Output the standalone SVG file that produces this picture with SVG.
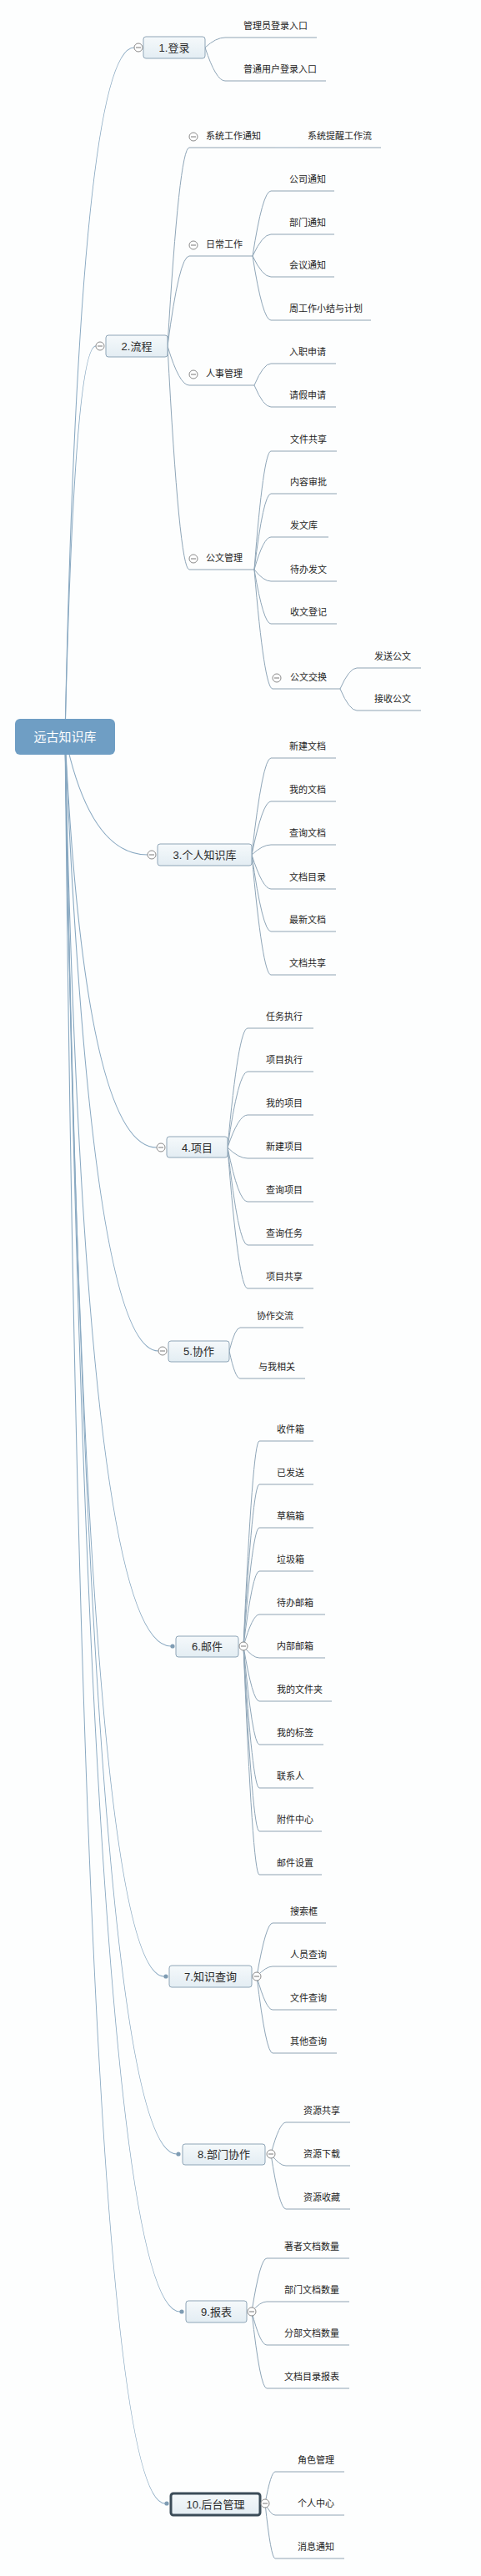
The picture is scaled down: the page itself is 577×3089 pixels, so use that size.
<svg xmlns="http://www.w3.org/2000/svg" xmlns:xlink="http://www.w3.org/1999/xlink" width="577" height="3089" viewBox="0 0 577 3089">
<style>
.m{fill:none;stroke:#88a8c1;stroke-width:1.1}
.c{fill:none;stroke:#8fa6b8;stroke-width:1}
.u{fill:none;stroke:#8fa3b3;stroke-width:1}
.t{font-family:"Liberation Sans","Noto Sans CJK SC",sans-serif;font-size:11px;fill:#252525}
.bt{font-family:"Liberation Sans","Noto Sans CJK SC",sans-serif;font-size:13px;fill:#2a2a2a;text-anchor:middle}
.box{fill:url(#bg);stroke:#8ea5b7;stroke-width:1}
.sel{fill:url(#bg);stroke:#3b4c58;stroke-width:3}
.dot{fill:#7f9cb3}
</style>
<defs>
<linearGradient id="bg" x1="0" y1="0" x2="0" y2="1">
<stop offset="0" stop-color="#f5f9fb"/>
<stop offset="1" stop-color="#e3edf3"/>
</linearGradient>
<g id="btn"><circle r="5" fill="#fff" stroke="#8a8a8a" stroke-width="1"/><path d="M-3 0H3" stroke="#777" stroke-width="1"/></g>
</defs>
<rect x="0" y="0" width="577" height="3089" fill="#fdfefe"/>

<g id="connectors">
<path class="m" d="M78 883Q95 57 161 57"/>
<path class="m" d="M78 883Q89 415 115 415"/>
<path class="m" d="M78 883Q108 1025 177 1025"/>
<path class="m" d="M78 883Q102 1376 188 1376"/>
<path class="m" d="M78 883Q109 1620 190 1620"/>
<path class="m" d="M78 883Q101 1974 205 1974"/>
<path class="m" d="M78 883Q102 2370 197 2370"/>
<path class="m" d="M78 883Q108 2583 212 2583"/>
<path class="m" d="M78 883Q110 2772 216 2772"/>
<path class="m" d="M78 883Q100 3002 198 3002"/>

<path class="c" d="M246 57Q259 45 270 45"/>
<path class="c" d="M246 57Q259 97 270 97"/>

<path class="c" d="M201 415Q215 177 227 177"/>
<path class="c" d="M201 415Q215 307 227 307"/>
<path class="c" d="M201 415Q215 462 227 462"/>
<path class="c" d="M201 415Q215 683 227 683"/>
<path class="c" d="M330 177L358 177"/>

<path class="c" d="M303 307Q315 229 325 229"/>
<path class="c" d="M303 307Q315 281 325 281"/>
<path class="c" d="M303 307Q315 332 325 332"/>
<path class="c" d="M303 307Q315 384 325 384"/>

<path class="c" d="M305 462Q316 436 325 436"/>
<path class="c" d="M305 462Q316 488 325 488"/>

<path class="c" d="M305 683Q316 541 325 541"/>
<path class="c" d="M305 683Q316 592 325 592"/>
<path class="c" d="M305 683Q316 644 325 644"/>
<path class="c" d="M305 683Q316 697 325 697"/>
<path class="c" d="M305 683Q316 748 325 748"/>
<path class="c" d="M305 683Q317 826 327 826"/>
<path class="c" d="M408 826Q419 801 428 801"/>
<path class="c" d="M408 826Q419 852 428 852"/>

<path class="c" d="M302 1025Q315 909 325 909"/>
<path class="c" d="M302 1025Q315 961 325 961"/>
<path class="c" d="M302 1025Q315 1013 325 1013"/>
<path class="c" d="M302 1025Q315 1066 325 1066"/>
<path class="c" d="M302 1025Q315 1117 325 1117"/>
<path class="c" d="M302 1025Q315 1169 325 1169"/>

<path class="c" d="M273 1376Q286 1233 297 1233"/>
<path class="c" d="M273 1376Q286 1285 297 1285"/>
<path class="c" d="M273 1376Q286 1337 297 1337"/>
<path class="c" d="M273 1376Q286 1389 297 1389"/>
<path class="c" d="M273 1376Q286 1441 297 1441"/>
<path class="c" d="M273 1376Q286 1493 297 1493"/>
<path class="c" d="M273 1376Q286 1545 297 1545"/>

<path class="c" d="M275 1620Q282 1592 288 1592"/>
<path class="c" d="M275 1620Q282 1653 288 1653"/>

<path class="c" d="M292 1974Q303 1728 311 1728"/>
<path class="c" d="M292 1974Q303 1780 311 1780"/>
<path class="c" d="M292 1974Q303 1832 311 1832"/>
<path class="c" d="M292 1974Q303 1884 311 1884"/>
<path class="c" d="M292 1974Q303 1936 311 1936"/>
<path class="c" d="M292 1974Q303 1988 311 1988"/>
<path class="c" d="M292 1974Q303 2040 311 2040"/>
<path class="c" d="M292 1974Q303 2092 311 2092"/>
<path class="c" d="M292 1974Q303 2144 311 2144"/>
<path class="c" d="M292 1974Q303 2196 311 2196"/>
<path class="c" d="M292 1974Q303 2248 311 2248"/>

<path class="c" d="M308 2370Q319 2306 327 2306"/>
<path class="c" d="M308 2370Q319 2358 327 2358"/>
<path class="c" d="M308 2370Q319 2410 327 2410"/>
<path class="c" d="M308 2370Q319 2462 327 2462"/>

<path class="c" d="M325 2583Q335 2545 343 2545"/>
<path class="c" d="M325 2583Q335 2597 343 2597"/>
<path class="c" d="M325 2583Q335 2649 343 2649"/>

<path class="c" d="M302 2772Q312 2708 320 2708"/>
<path class="c" d="M302 2772Q312 2760 320 2760"/>
<path class="c" d="M302 2772Q312 2812 320 2812"/>
<path class="c" d="M302 2772Q312 2864 320 2864"/>

<path class="c" d="M318 3002Q325 2964 330 2964"/>
<path class="c" d="M318 3002Q325 3016 330 3016"/>
<path class="c" d="M318 3002Q325 3068 330 3068"/>
</g>

<g id="n-root">
<rect x="18" y="862" width="120" height="43" rx="6" fill="#6f9ec4"/>
<text x="78" y="889" font-family="Liberation Sans,Noto Sans CJK SC,sans-serif" font-size="15" fill="#fff" text-anchor="middle">远古知识库</text>
</g>

<g id="n-1">
<rect class="box" x="172" y="44" width="74" height="26" rx="3"/>
<text class="bt" x="209" y="61.5">1.登录</text>
<use xlink:href="#btn" x="166" y="57"/>
</g>
<g id="n-1-1"><text class="t" x="292" y="35">管理员登录入口</text><path class="u" d="M270 45H380"/></g>
<g id="n-1-2"><text class="t" x="292" y="87">普通用户登录入口</text><path class="u" d="M270 97H391"/></g>

<g id="n-2">
<rect class="box" x="127" y="402" width="74" height="26" rx="3"/>
<text class="bt" x="164" y="419.5">2.流程</text>
<use xlink:href="#btn" x="120" y="415"/>
</g>
<g id="n-2-1"><use xlink:href="#btn" x="232" y="164"/><text class="t" x="247" y="167">系统工作通知</text><path class="u" d="M227 177H330"/></g>
<g id="n-2-1-1"><text class="t" x="369" y="167">系统提醒工作流</text><path class="u" d="M358 177H457"/></g>
<g id="n-2-2"><use xlink:href="#btn" x="232" y="294"/><text class="t" x="247" y="297">日常工作</text><path class="u" d="M227 307H303"/></g>
<g id="n-2-2-1"><text class="t" x="347" y="219">公司通知</text><path class="u" d="M325 229H401"/></g>
<g id="n-2-2-2"><text class="t" x="347" y="271">部门通知</text><path class="u" d="M325 281H401"/></g>
<g id="n-2-2-3"><text class="t" x="347" y="322">会议通知</text><path class="u" d="M325 332H401"/></g>
<g id="n-2-2-4"><text class="t" x="347" y="374">周工作小结与计划</text><path class="u" d="M325 384H445"/></g>
<g id="n-2-3"><use xlink:href="#btn" x="232" y="449"/><text class="t" x="247" y="452">人事管理</text><path class="u" d="M227 462H305"/></g>
<g id="n-2-3-1"><text class="t" x="347" y="426">入职申请</text><path class="u" d="M325 436H403"/></g>
<g id="n-2-3-2"><text class="t" x="347" y="478">请假申请</text><path class="u" d="M325 488H403"/></g>
<g id="n-2-4"><use xlink:href="#btn" x="232" y="670"/><text class="t" x="247" y="673">公文管理</text><path class="u" d="M227 683H305"/></g>
<g id="n-2-4-1"><text class="t" x="348" y="531">文件共享</text><path class="u" d="M325 541H404"/></g>
<g id="n-2-4-2"><text class="t" x="348" y="582">内容审批</text><path class="u" d="M325 592H404"/></g>
<g id="n-2-4-3"><text class="t" x="348" y="634">发文库</text><path class="u" d="M325 644H394"/></g>
<g id="n-2-4-4"><text class="t" x="348" y="687">待办发文</text><path class="u" d="M325 697H404"/></g>
<g id="n-2-4-5"><text class="t" x="348" y="738">收文登记</text><path class="u" d="M325 748H404"/></g>
<g id="n-2-4-6"><use xlink:href="#btn" x="332" y="813"/><text class="t" x="348" y="816">公文交换</text><path class="u" d="M327 826H408"/></g>
<g id="n-2-4-6-1"><text class="t" x="449" y="791">发送公文</text><path class="u" d="M428 801H505"/></g>
<g id="n-2-4-6-2"><text class="t" x="449" y="842">接收公文</text><path class="u" d="M428 852H505"/></g>

<g id="n-3">
<rect class="box" x="189" y="1012" width="113" height="26" rx="3"/>
<text class="bt" x="245.5" y="1029.5">3.个人知识库</text>
<use xlink:href="#btn" x="182" y="1025"/>
</g>
<g id="n-3-1"><text class="t" x="347" y="899">新建文档</text><path class="u" d="M325 909H403"/></g>
<g id="n-3-2"><text class="t" x="347" y="951">我的文档</text><path class="u" d="M325 961H403"/></g>
<g id="n-3-3"><text class="t" x="347" y="1003">查询文档</text><path class="u" d="M325 1013H403"/></g>
<g id="n-3-4"><text class="t" x="347" y="1056">文档目录</text><path class="u" d="M325 1066H403"/></g>
<g id="n-3-5"><text class="t" x="347" y="1107">最新文档</text><path class="u" d="M325 1117H403"/></g>
<g id="n-3-6"><text class="t" x="347" y="1159">文档共享</text><path class="u" d="M325 1169H403"/></g>

<g id="n-4">
<rect class="box" x="200" y="1363" width="73" height="25" rx="3"/>
<text class="bt" x="236.5" y="1380.5">4.项目</text>
<use xlink:href="#btn" x="193" y="1376"/>
</g>
<g id="n-4-1"><text class="t" x="319" y="1223">任务执行</text><path class="u" d="M297 1233H376"/></g>
<g id="n-4-2"><text class="t" x="319" y="1275">项目执行</text><path class="u" d="M297 1285H376"/></g>
<g id="n-4-3"><text class="t" x="319" y="1327">我的项目</text><path class="u" d="M297 1337H376"/></g>
<g id="n-4-4"><text class="t" x="319" y="1379">新建项目</text><path class="u" d="M297 1389H376"/></g>
<g id="n-4-5"><text class="t" x="319" y="1431">查询项目</text><path class="u" d="M297 1441H376"/></g>
<g id="n-4-6"><text class="t" x="319" y="1483">查询任务</text><path class="u" d="M297 1493H376"/></g>
<g id="n-4-7"><text class="t" x="319" y="1535">项目共享</text><path class="u" d="M297 1545H376"/></g>

<g id="n-5">
<rect class="box" x="202" y="1608" width="73" height="25" rx="3"/>
<text class="bt" x="238.5" y="1625">5.协作</text>
<use xlink:href="#btn" x="195" y="1620"/>
</g>
<g id="n-5-1"><text class="t" x="308" y="1582">协作交流</text><path class="u" d="M288 1592H364"/></g>
<g id="n-5-2"><text class="t" x="310" y="1643">与我相关</text><path class="u" d="M288 1653H366"/></g>

<g id="n-6">
<rect class="box" x="211" y="1962" width="75" height="25" rx="3"/>
<text class="bt" x="248.5" y="1979">6.邮件</text>
<circle class="dot" cx="207" cy="1974" r="2.6"/>
<use xlink:href="#btn" x="292" y="1974"/>
</g>
<g id="n-6-1"><text class="t" x="332" y="1718">收件箱</text><path class="u" d="M311 1728H376"/></g>
<g id="n-6-2"><text class="t" x="332" y="1770">已发送</text><path class="u" d="M311 1780H376"/></g>
<g id="n-6-3"><text class="t" x="332" y="1822">草稿箱</text><path class="u" d="M311 1832H376"/></g>
<g id="n-6-4"><text class="t" x="332" y="1874">垃圾箱</text><path class="u" d="M311 1884H376"/></g>
<g id="n-6-5"><text class="t" x="332" y="1926">待办邮箱</text><path class="u" d="M311 1936H390"/></g>
<g id="n-6-6"><text class="t" x="332" y="1978">内部邮箱</text><path class="u" d="M311 1988H390"/></g>
<g id="n-6-7"><text class="t" x="332" y="2030">我的文件夹</text><path class="u" d="M311 2040H398"/></g>
<g id="n-6-8"><text class="t" x="332" y="2082">我的标签</text><path class="u" d="M311 2092H388"/></g>
<g id="n-6-9"><text class="t" x="332" y="2134">联系人</text><path class="u" d="M311 2144H376"/></g>
<g id="n-6-10"><text class="t" x="332" y="2186">附件中心</text><path class="u" d="M311 2196H386"/></g>
<g id="n-6-11"><text class="t" x="332" y="2238">邮件设置</text><path class="u" d="M311 2248H386"/></g>

<g id="n-7">
<rect class="box" x="203" y="2357" width="99" height="26" rx="3"/>
<text class="bt" x="252.5" y="2374.5">7.知识查询</text>
<circle class="dot" cx="199" cy="2370" r="2.6"/>
<use xlink:href="#btn" x="308" y="2370"/>
</g>
<g id="n-7-1"><text class="t" x="348" y="2296">搜索框</text><path class="u" d="M327 2306H391"/></g>
<g id="n-7-2"><text class="t" x="348" y="2348">人员查询</text><path class="u" d="M327 2358H404"/></g>
<g id="n-7-3"><text class="t" x="348" y="2400">文件查询</text><path class="u" d="M327 2410H404"/></g>
<g id="n-7-4"><text class="t" x="348" y="2452">其他查询</text><path class="u" d="M327 2462H404"/></g>

<g id="n-8">
<rect class="box" x="219" y="2571" width="99" height="25" rx="3"/>
<text class="bt" x="268.5" y="2588">8.部门协作</text>
<circle class="dot" cx="214" cy="2583" r="2.6"/>
<use xlink:href="#btn" x="325" y="2583"/>
</g>
<g id="n-8-1"><text class="t" x="364" y="2535">资源共享</text><path class="u" d="M343 2545H420"/></g>
<g id="n-8-2"><text class="t" x="364" y="2587">资源下载</text><path class="u" d="M343 2597H420"/></g>
<g id="n-8-3"><text class="t" x="364" y="2639">资源收藏</text><path class="u" d="M343 2649H420"/></g>

<g id="n-9">
<rect class="box" x="223" y="2759" width="73" height="26" rx="3"/>
<text class="bt" x="259.5" y="2776.5">9.报表</text>
<circle class="dot" cx="218" cy="2772" r="2.6"/>
<use xlink:href="#btn" x="302" y="2772"/>
</g>
<g id="n-9-1"><text class="t" x="341" y="2698">著者文档数量</text><path class="u" d="M320 2708H419"/></g>
<g id="n-9-2"><text class="t" x="341" y="2750">部门文档数量</text><path class="u" d="M320 2760H419"/></g>
<g id="n-9-3"><text class="t" x="341" y="2802">分部文档数量</text><path class="u" d="M320 2812H419"/></g>
<g id="n-9-4"><text class="t" x="341" y="2854">文档目录报表</text><path class="u" d="M320 2864H419"/></g>

<g id="n-10">
<rect class="sel" x="205" y="2990" width="107" height="26" rx="3"/>
<text class="bt" x="258.5" y="3007.5">10.后台管理</text>
<circle class="dot" cx="200" cy="3002" r="2.6"/>
<use xlink:href="#btn" x="318" y="3002"/>
</g>
<g id="n-10-1"><text class="t" x="357" y="2954">角色管理</text><path class="u" d="M330 2964H413"/></g>
<g id="n-10-2"><text class="t" x="357" y="3006">个人中心</text><path class="u" d="M330 3016H413"/></g>
<g id="n-10-3"><text class="t" x="357" y="3058">消息通知</text><path class="u" d="M330 3068H413"/></g>
</svg>
